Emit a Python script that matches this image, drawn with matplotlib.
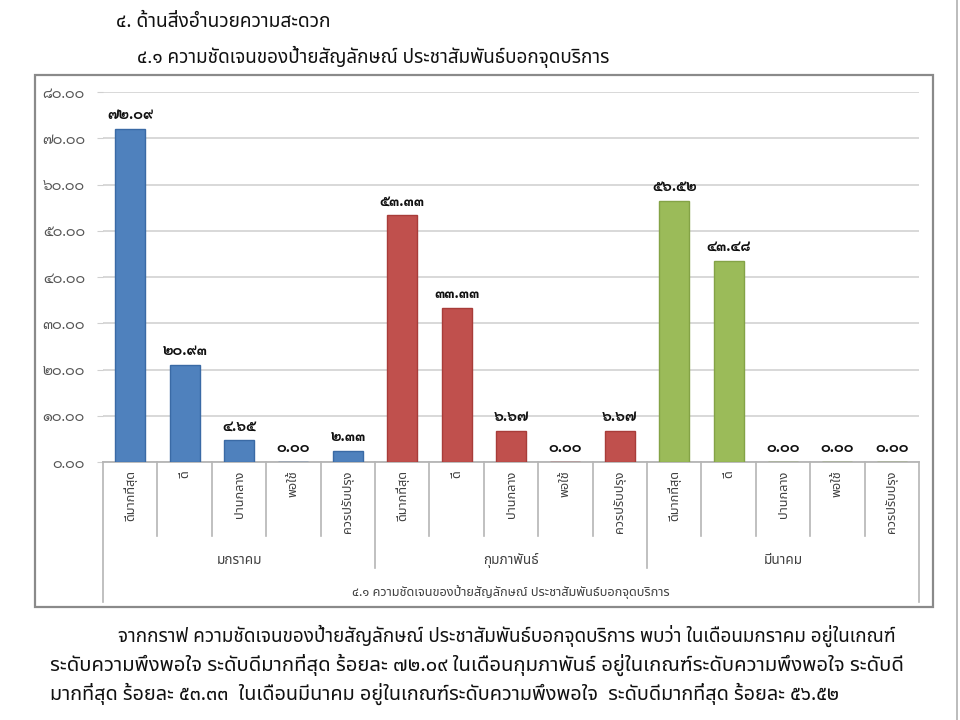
import matplotlib
matplotlib.use("Agg")
import matplotlib.pyplot as plt
from matplotlib.patches import Rectangle
from matplotlib.lines import Line2D
import numpy as np

plt.rcParams['font.family'] = ['Noto Sans Thai', 'DejaVu Sans']
NUM_FONT = ['Sarabun', 'Noto Sans Thai', 'DejaVu Sans']

# data
months = ["มกราคม", "กุมภาพันธ์", "มีนาคม"]
levels = ["ดีมากที่สุด", "ดี", "ปานกลาง", "พอใช้", "ควรปรับปรุง"]
jan = [72.09, 20.93, 4.65, 0.00, 2.33]
feb = [53.33, 33.33, 6.67, 0.00, 6.67]
mar = [56.52, 43.48, 0.00, 0.00, 0.00]
month_colors = ["#4F81BD", "#C0504D", "#9BBB59"]
edge_colors = ["#3A6AA5", "#A83C39", "#84A346"]
yticks = [0, 10, 20, 30, 40, 50, 60, 70, 80]

heading1 = "๔. ด้านสิ่งอำนวยความสะดวก"
heading2 = "๔.๑ ความชัดเจนของป้ายสัญลักษณ์ ประชาสัมพันธ์บอกจุดบริการ"
group_title = "๔.๑ ความชัดเจนของป้ายสัญลักษณ์ ประชาสัมพันธ์บอกจุดบริการ"
paragraph = [
    "จากกราฟ ความชัดเจนของป้ายสัญลักษณ์ ประชาสัมพันธ์บอกจุดบริการ พบว่า ในเดือนมกราคม อยู่ในเกณฑ์",
    "ระดับความพึงพอใจ ระดับดีมากที่สุด ร้อยละ ๗๒.๐๙ ในเดือนกุมภาพันธ์ อยู่ในเกณฑ์ระดับความพึงพอใจ ระดับดี",
    "มากที่สุด ร้อยละ ๕๓.๓๓  ในเดือนมีนาคม อยู่ในเกณฑ์ระดับความพึงพอใจ  ระดับดีมากที่สุด ร้อยละ ๕๖.๕๒",
]

THAI = str.maketrans("0123456789", "๐๑๒๓๔๕๖๗๘๙")


def thai_num(v):
    return f"{v:.2f}".translate(THAI)


W, H = 960, 720
fig = plt.figure(figsize=(W / 100, H / 100), dpi=100)


def px(x, y):
    # pixel coords (from top-left) -> figure fraction
    return x / W, 1 - y / H


# headings above the chart
fig.text(*px(116, 22), heading1, fontsize=13.8, va="center", ha="left", color="#111111")
fig.text(*px(137, 57), heading2, fontsize=13.6, va="center", ha="left", color="#111111")

# chart frame
x0, y0 = px(35, 607)
x1, y1 = px(933, 75)
fig.add_artist(Rectangle((x0, y0), x1 - x0, y1 - y0, transform=fig.transFigure,
                         fill=False, edgecolor="#8a8a8a", lw=1.6))
# page edge line at the far right
fig.add_artist(Line2D([957 / W, 957 / W], [0, 1], transform=fig.transFigure,
                      color="#b0b0b0", lw=1.2))

# plot area
left, top = px(103, 92)
right, bottom = px(919, 462)
ax = fig.add_axes([left, bottom, right - left, top - bottom])

all_vals = [jan, feb, mar]
n = len(levels)
for m, vals in enumerate(all_vals):
    xs = np.arange(n) + m * n
    ax.bar(xs, vals, width=0.55, color=month_colors[m], edgecolor=edge_colors[m],
           linewidth=1.0, zorder=3)
    for x, v in zip(xs, vals):
        ax.annotate(thai_num(v), (x, v), xytext=(0, 5), textcoords="offset points",
                    ha="center", va="bottom", fontsize=10.5, fontweight="bold",
                    family=NUM_FONT, color="#111111", zorder=4)

total = n * len(months)
ax.set_xlim(-0.5, total - 0.5)
ax.set_ylim(0, 80)
ax.set_yticks(yticks)
ax.set_yticklabels([thai_num(t) for t in yticks], family=NUM_FONT)
ax.tick_params(axis="y", length=4.5, color="#d0d0d0", labelcolor="#555555",
               labelsize=10.5, pad=8.5)
ax.grid(True, axis="y", color="#d6d6d6", lw=1.3, zorder=0)
ax.set_axisbelow(True)
for s in ["top", "right", "left"]:
    ax.spines[s].set_visible(False)
ax.spines["bottom"].set_color("#b5b5b5")
ax.spines["bottom"].set_linewidth(1.3)
ax.set_xticks([])

# multi-level category axis drawn below the plot
tr = ax.get_xaxis_transform()
line_kw = dict(color="#b5b5b5", lw=1.2, transform=tr, clip_on=False)
for k in range(total + 1):
    xb = k - 0.5
    if k == 0 or k == total:
        yb = -0.378
    elif k % n == 0:
        yb = -0.287
    else:
        yb = -0.2
    ax.plot([xb, xb], [0, yb], **line_kw)

for m in range(len(months)):
    for i, lab in enumerate(levels):
        ax.text(m * n + i, -0.022, lab, transform=tr, rotation=90, ha="center",
                va="top", fontsize=9.2, color="#404040")
    ax.text(m * n + (n - 1) / 2, -0.265, months[m], transform=tr, ha="center",
            va="center", fontsize=9.8, color="#404040")
ax.text((total - 1) / 2, -0.352, group_title, transform=tr, ha="center",
        va="center", fontsize=9.2, color="#404040")

# paragraph below the chart
fig.text(*px(118, 636), paragraph[0], fontsize=13.6, va="center", ha="left", color="#111111")
fig.text(*px(50, 665), paragraph[1], fontsize=14.6, va="center", ha="left", color="#111111")
fig.text(*px(50, 694), paragraph[2], fontsize=14.3, va="center", ha="left", color="#111111")

fig.savefig("out.png", dpi=100)
